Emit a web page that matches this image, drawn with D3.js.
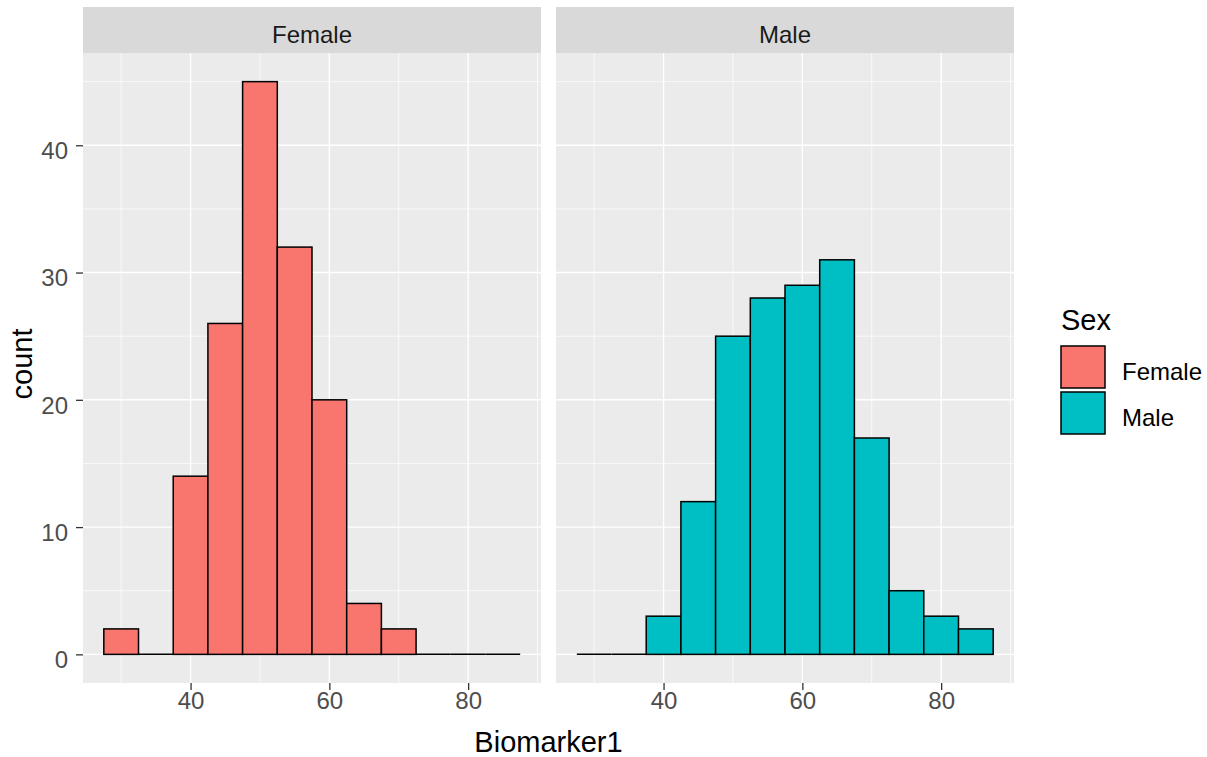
<!DOCTYPE html>
<meta charset="utf-8">
<style>
  body { margin: 0; background: #fff; }
  svg { font-family: "Liberation Sans", Arial, sans-serif; }
  .grid-major { stroke: #fff; stroke-width: 1.4; }
  .grid-minor { stroke: #fff; stroke-width: 0.7; }
</style>
<body>
<script src="https://d3js.org/d3.v7.min.js"></script>
<script>
  // histogram bins (binwidth 5)
  var binCenters = [30, 35, 40, 45, 50, 55, 60, 65, 70, 75, 80, 85];
  var femaleCounts = [2, 0, 14, 26, 45, 32, 20, 4, 2, 0, 0, 0];
  var maleCounts = [0, 0, 3, 12, 25, 28, 29, 31, 17, 5, 3, 2];
  var facets = ["Female", "Male"];
  var colors = ["#F8766D", "#00BFC4"];
  var xTicks = [40, 60, 80];
  var yTicks = [0, 10, 20, 30, 40];
  var binWidth = 5;

  var W = 1207, H = 757;
  var panelTop = 53, panelBottom = 683, stripTop = 7;
  var panelW = 458, panelLefts = [83, 556];
  var labelSize = 24, titleSize = 29;

  var svg = d3.select("body").append("svg")
    .attr("width", W).attr("height", H);

  var xMin = binCenters[0] - binWidth / 2, xMax = binCenters[binCenters.length - 1] + binWidth / 2;
  var xPad = (xMax - xMin) * 0.05;
  var yMax = d3.max(femaleCounts.concat(maleCounts));

  var y = d3.scaleLinear()
    .domain([-yMax * 0.05, yMax * 1.05])
    .range([panelBottom, panelTop]);

  var allCounts = [femaleCounts, maleCounts];

  facets.forEach(function (name, i) {
    var left = panelLefts[i];
    var x = d3.scaleLinear()
      .domain([xMin - xPad, xMax + xPad])
      .range([left, left + panelW]);

    var g = svg.append("g");

    // strip
    g.append("rect")
      .attr("x", left).attr("y", stripTop)
      .attr("width", panelW).attr("height", panelTop - stripTop)
      .attr("fill", "#D9D9D9");
    g.append("text")
      .attr("x", left + panelW / 2).attr("y", 43)
      .attr("text-anchor", "middle")
      .attr("font-size", labelSize).attr("fill", "#1A1A1A")
      .text(name);

    // panel
    g.append("rect")
      .attr("x", left).attr("y", panelTop)
      .attr("width", panelW).attr("height", panelBottom - panelTop)
      .attr("fill", "#EBEBEB");

    // grid
    var xMinor = [30, 50, 70, 90], yMinor = [5, 15, 25, 35, 45];
    g.selectAll(".gxm").data(xMinor).enter().append("line")
      .attr("class", "grid-minor")
      .attr("x1", function (d) { return x(d); }).attr("x2", function (d) { return x(d); })
      .attr("y1", panelTop).attr("y2", panelBottom);
    g.selectAll(".gym").data(yMinor).enter().append("line")
      .attr("class", "grid-minor")
      .attr("y1", function (d) { return y(d); }).attr("y2", function (d) { return y(d); })
      .attr("x1", left).attr("x2", left + panelW);
    g.selectAll(".gx").data(xTicks).enter().append("line")
      .attr("class", "grid-major")
      .attr("x1", function (d) { return x(d); }).attr("x2", function (d) { return x(d); })
      .attr("y1", panelTop).attr("y2", panelBottom);
    g.selectAll(".gy").data(yTicks).enter().append("line")
      .attr("class", "grid-major")
      .attr("y1", function (d) { return y(d); }).attr("y2", function (d) { return y(d); })
      .attr("x1", left).attr("x2", left + panelW);

    // bars (empty bins still show their outline on the baseline)
    var bins = allCounts[i].map(function (c, j) {
      return { x0: binCenters[j] - binWidth / 2, x1: binCenters[j] + binWidth / 2, count: c };
    });
    g.selectAll(".bar").data(bins.filter(function (b) { return b.count > 0; })).enter().append("rect")
      .attr("x", function (b) { return x(b.x0); })
      .attr("width", function (b) { return x(b.x1) - x(b.x0); })
      .attr("y", function (b) { return y(b.count); })
      .attr("height", function (b) { return y(0) - y(b.count); })
      .attr("fill", colors[i])
      .attr("stroke", "#000")
      .attr("stroke-width", 1.5);
    g.selectAll(".empty").data(bins.filter(function (b) { return b.count === 0; })).enter().append("line")
      .attr("x1", function (b) { return x(b.x0); })
      .attr("x2", function (b) { return x(b.x1); })
      .attr("y1", y(0)).attr("y2", y(0))
      .attr("stroke", "#000")
      .attr("stroke-width", 1.5);

    // x axis
    var xAxis = g.append("g")
      .attr("transform", "translate(0," + panelBottom + ")")
      .call(d3.axisBottom(x).tickValues(xTicks).tickSize(7).tickPadding(2));
    xAxis.select(".domain").remove();
    xAxis.selectAll("line").attr("stroke", "#333").attr("stroke-width", 1.3);
    xAxis.attr("font-family", null).attr("font-size", null);
    xAxis.selectAll("text").attr("font-size", labelSize).attr("fill", "#4D4D4D");
  });

  // y axis (left panel only)
  var yAxis = svg.append("g")
    .attr("transform", "translate(" + panelLefts[0] + ",0)")
    .call(d3.axisLeft(y).tickValues(yTicks).tickSize(7).tickPadding(8));
  yAxis.select(".domain").remove();
  yAxis.selectAll("line").attr("stroke", "#333").attr("stroke-width", 1.3);
  yAxis.attr("font-family", null).attr("font-size", null);
  yAxis.selectAll("text").attr("font-size", labelSize).attr("fill", "#4D4D4D").attr("dy", "0.55em");

  // axis titles
  svg.append("text")
    .attr("x", (panelLefts[0] + panelLefts[1] + panelW) / 2).attr("y", 752)
    .attr("text-anchor", "middle").attr("font-size", titleSize).attr("fill", "#000")
    .text("Biomarker1");
  svg.append("text")
    .attr("transform", "translate(32,364) rotate(-90)")
    .attr("text-anchor", "middle").attr("font-size", titleSize).attr("fill", "#000")
    .text("count");

  // legend
  var legend = svg.append("g");
  legend.append("text")
    .attr("x", 1061).attr("y", 330)
    .attr("font-size", titleSize).attr("fill", "#000")
    .text("Sex");
  facets.forEach(function (name, i) {
    var ky = 346 + i * 46;
    legend.append("rect")
      .attr("x", 1061).attr("y", ky)
      .attr("width", 44).attr("height", 42)
      .attr("fill", colors[i]).attr("stroke", "#000").attr("stroke-width", 1.5);
    legend.append("text")
      .attr("x", 1122).attr("y", ky + 34)
      .attr("font-size", labelSize).attr("fill", "#000")
      .text(name);
  });
</script>
</body>
